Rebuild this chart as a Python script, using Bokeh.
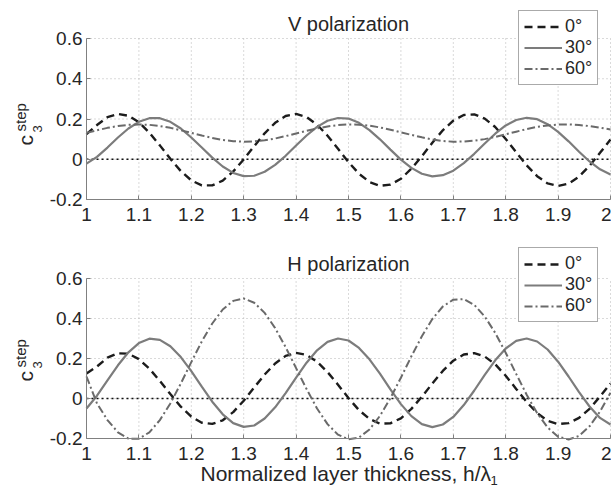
import math
from bokeh.plotting import figure
from bokeh.layouts import column
from bokeh.models import Range1d, FixedTicker, Label
from bokeh.embed import file_html
from bokeh.resources import INLINE

# ---------------- data ----------------
x_vals = [1.00, 1.02, 1.04, 1.06, 1.08, 1.10, 1.12, 1.14, 1.16, 1.18,
          1.20, 1.22, 1.24, 1.26, 1.28, 1.30, 1.32, 1.34, 1.36, 1.38,
          1.40, 1.42, 1.44, 1.46, 1.48, 1.50, 1.52, 1.54, 1.56, 1.58,
          1.60, 1.62, 1.64, 1.66, 1.68, 1.70, 1.72, 1.74, 1.76, 1.78,
          1.80, 1.82, 1.84, 1.86, 1.88, 1.90, 1.92, 1.94, 1.96, 1.98, 2.00]

v_pol_0 = [0.125, 0.170, 0.209, 0.225, 0.216, 0.184, 0.132, 0.069, 0.002, -0.059,
           -0.105, -0.130, -0.130, -0.106, -0.061, -0.001, 0.065, 0.129, 0.181, 0.215,
           0.225, 0.210, 0.172, 0.117, 0.052, -0.014, -0.072, -0.113, -0.132, -0.126,
           -0.097, -0.047, 0.015, 0.082, 0.144, 0.192, 0.220, 0.223, 0.202, 0.160,
           0.101, 0.035, -0.030, -0.084, -0.120, -0.133, -0.121, -0.086, -0.033, 0.032, 0.098]
v_pol_30 = [-0.022, 0.012, 0.058, 0.108, 0.153, 0.186, 0.204, 0.204, 0.186, 0.153,
            0.108, 0.058, 0.008, -0.036, -0.068, -0.084, -0.082, -0.062, -0.028, 0.017,
            0.068, 0.118, 0.161, 0.191, 0.205, 0.202, 0.181, 0.145, 0.099, 0.048,
            -0.002, -0.043, -0.072, -0.085, -0.079, -0.057, -0.019, 0.027, 0.078, 0.127,
            0.168, 0.195, 0.206, 0.199, 0.174, 0.136, 0.089, 0.037, -0.011, -0.050, -0.076]
v_pol_60 = [0.131, 0.144, 0.156, 0.165, 0.171, 0.173, 0.171, 0.165, 0.156, 0.144,
            0.131, 0.118, 0.106, 0.096, 0.090, 0.087, 0.089, 0.094, 0.103, 0.115,
            0.128, 0.141, 0.153, 0.163, 0.170, 0.173, 0.172, 0.167, 0.158, 0.147,
            0.134, 0.121, 0.109, 0.098, 0.091, 0.087, 0.088, 0.092, 0.100, 0.111,
            0.124, 0.137, 0.150, 0.161, 0.168, 0.172, 0.173, 0.170, 0.165, 0.157, 0.148]

h_pol_0 = [0.125, 0.160, 0.204, 0.226, 0.224, 0.197, 0.149, 0.088, 0.022, -0.041,
           -0.091, -0.121, -0.127, -0.109, -0.068, -0.011, 0.055, 0.120, 0.175, 0.213,
           0.228, 0.218, 0.184, 0.132, 0.069, 0.002, -0.058, -0.102, -0.126, -0.124,
           -0.099, -0.052, 0.009, 0.075, 0.138, 0.189, 0.220, 0.227, 0.210, 0.171,
           0.114, 0.048, -0.017, -0.073, -0.112, -0.128, -0.123, -0.097, -0.052, 0.010, 0.075]
h_pol_30 = [-0.050, 0.014, 0.091, 0.166, 0.231, 0.277, 0.299, 0.293, 0.261, 0.207,
            0.137, 0.059, -0.016, -0.079, -0.123, -0.142, -0.135, -0.100, -0.044, 0.027,
            0.104, 0.179, 0.241, 0.283, 0.300, 0.290, 0.253, 0.196, 0.124, 0.046,
            -0.028, -0.088, -0.128, -0.143, -0.130, -0.092, -0.033, 0.040, 0.118, 0.191,
            0.250, 0.288, 0.300, 0.285, 0.245, 0.184, 0.110, 0.032, -0.040, -0.097, -0.130]
h_pol_60 = [0.110, -0.025, -0.108, -0.169, -0.201, -0.201, -0.169, -0.108, -0.025, 0.075,
            0.182, 0.285, 0.375, 0.445, 0.488, 0.500, 0.479, 0.428, 0.352, 0.257,
            0.152, 0.047, -0.050, -0.128, -0.181, -0.204, -0.195, -0.155, -0.087, 0.002,
            0.104, 0.211, 0.311, 0.397, 0.460, 0.494, 0.497, 0.468, 0.410, 0.328,
            0.229, 0.123, 0.019, -0.073, -0.145, -0.191, -0.205, -0.187, -0.139, -0.065, 0.029]

series_labels = ["0°", "30°", "60°"]
panel_titles = ["V polarization", "H polarization"]
x_ticks = [1.0, 1.1, 1.2, 1.3, 1.4, 1.5, 1.6, 1.7, 1.8, 1.9, 2.0]
x_tick_labels = ["1", "1.1", "1.2", "1.3", "1.4", "1.5", "1.6", "1.7", "1.8", "1.9", "2"]
y_ticks = [-0.2, 0.0, 0.2, 0.4, 0.6]
y_tick_labels = ["-0.2", "0", "0.2", "0.4", "0.6"]
x_label = "Normalized layer thickness, h/λ"
x_label_sub = "1"
y_label = ("c", "step", "3")

# ---------------- style / layout ----------------
FONT = "Liberation Sans"
TXT = "#262626"
AX = "#808080"
W = 611
AX_LEFT_PX, AX_RIGHT_PX = 86, 610   # pixel columns of x = 1 and x = 2

styles = [
    dict(line_color="#1c1c1c", line_width=2.4, line_dash="8 5"),
    dict(line_color="#7c7c7c", line_width=2.2, line_dash="solid"),
    dict(line_color="#6a6a6a", line_width=2.0, line_dash="8 3 2 3"),
]


def make_panel(title, ys, H, top_px, bot_px, legend_top_px, legend_bot_px, ylab_shift, with_xlabel):
    x0, x1 = x_ticks[0], x_ticks[-1]
    y0, y1 = y_ticks[0], y_ticks[-1]
    kx = (AX_RIGHT_PX - AX_LEFT_PX) / (x1 - x0)
    ky = (bot_px - top_px) / (y1 - y0)
    xr = Range1d(x0 - AX_LEFT_PX / kx, x0 + (W - AX_LEFT_PX) / kx)
    yr = Range1d(y0 - (H - bot_px) / ky, y1 + top_px / ky)

    p = figure(width=W, height=H, x_range=xr, y_range=yr,
               output_backend="svg", toolbar_location=None,
               min_border=0, min_border_left=0, min_border_right=0,
               min_border_top=0, min_border_bottom=0)
    p.title.text = ""
    p.title.visible = False
    p.outline_line_color = None
    p.background_fill_color = "white"
    p.border_fill_color = "white"
    p.grid.visible = False

    xa, ya = p.xaxis[0], p.yaxis[0]
    xa.fixed_location = y0
    xa.bounds = (x0, x1)
    ya.fixed_location = x0
    ya.bounds = (y0, y1)
    for axis in (xa, ya):
        axis.axis_line_color = AX
        axis.axis_line_width = 1
        axis.major_tick_line_color = AX
        axis.major_tick_in = 4
        axis.major_tick_out = 0
        axis.minor_tick_line_color = None
        axis.major_label_text_font = FONT
        axis.major_label_text_font_size = "19px"
        axis.major_label_text_color = TXT
    xa.ticker = FixedTicker(ticks=x_ticks)
    xa.major_label_overrides = {t: l for t, l in zip(x_ticks, x_tick_labels)}
    xa.major_label_standoff = 8
    ya.ticker = FixedTicker(ticks=y_ticks)
    ya.major_label_overrides = {t: l for t, l in zip(y_ticks, y_tick_labels)}
    ya.major_label_standoff = 4

    # dotted grid at the tick positions, limited to the axes box
    p.segment(x0=x_ticks[1:], y0=[y0] * (len(x_ticks) - 1), x1=x_ticks[1:], y1=[y1] * (len(x_ticks) - 1),
              line_color="#b4b4b4", line_dash="1 3", line_width=1)
    p.segment(x0=[x0] * (len(y_ticks) - 1), y0=y_ticks[1:], x1=[x1] * (len(y_ticks) - 1), y1=y_ticks[1:],
              line_color="#b4b4b4", line_dash="1 3", line_width=1)
    # zero reference line
    p.line([x0, x1], [0, 0], line_color="#111111", line_dash="2 3", line_width=1.6)

    for yv, lab, st in zip(ys, series_labels, styles):
        p.line(x_vals, yv, legend_label=lab, **st)

    lg = p.legend[0]
    lg.location = (518, H - legend_bot_px)
    lg.background_fill_color = "white"
    lg.background_fill_alpha = 1
    lg.border_line_color = "#555555"
    lg.border_line_width = 1
    lg.label_text_font = FONT
    lg.label_text_font_size = "18px"
    lg.label_text_color = TXT
    lg.glyph_width = 38
    lg.glyph_height = (legend_bot_px - legend_top_px - 10) // 3
    lg.label_height = (legend_bot_px - legend_top_px - 10) // 3
    lg.label_standoff = 3
    lg.spacing = 0
    lg.padding = 5
    lg.margin = 0

    # panel title
    p.add_layout(Label(x=(x0 + x1) / 2, y=H - (top_px - 15), x_units="data", y_units="screen",
                       text=title, text_align="center", text_baseline="alphabetic",
                       text_font=FONT, text_font_size="20px", text_color=TXT))

    # y axis label  c_3^step  (rotated)
    a = math.pi / 2
    p.add_layout(Label(x=25, y=H - (145 + ylab_shift), x_units="screen", y_units="screen",
                       text=y_label[0], angle=a, text_align="left", text_baseline="alphabetic",
                       text_font=FONT, text_font_size="21px", text_color=TXT))
    p.add_layout(Label(x=20, y=H - (131 + ylab_shift), x_units="screen", y_units="screen",
                       text=y_label[1], angle=a, text_align="left", text_baseline="alphabetic",
                       text_font=FONT, text_font_size="15px", text_color=TXT))
    p.add_layout(Label(x=37, y=H - (132 + ylab_shift), x_units="screen", y_units="screen",
                       text=y_label[2], angle=a, text_align="left", text_baseline="alphabetic",
                       text_font=FONT, text_font_size="13px", text_color=TXT))

    if with_xlabel:
        p.add_layout(Label(x=200, y=H - 233, x_units="screen", y_units="screen", text=x_label,
                           text_align="left", text_baseline="alphabetic",
                           text_font=FONT, text_font_size="21px", text_color=TXT))
        p.add_layout(Label(x=490, y=H - 240, x_units="screen", y_units="screen", text=x_label_sub,
                           text_align="left", text_baseline="alphabetic",
                           text_font=FONT, text_font_size="13px", text_color=TXT))
    return p


p1 = make_panel(panel_titles[0], [v_pol_0, v_pol_30, v_pol_60], 240, 38, 199, 12, 85, 0, False)
p2 = make_panel(panel_titles[1], [h_pol_0, h_pol_30, h_pol_60], 248, 38, 198, 12, 82, -4, True)

layout = column(p1, p2, spacing=0)
open("out.html", "w").write(file_html(layout, INLINE))
